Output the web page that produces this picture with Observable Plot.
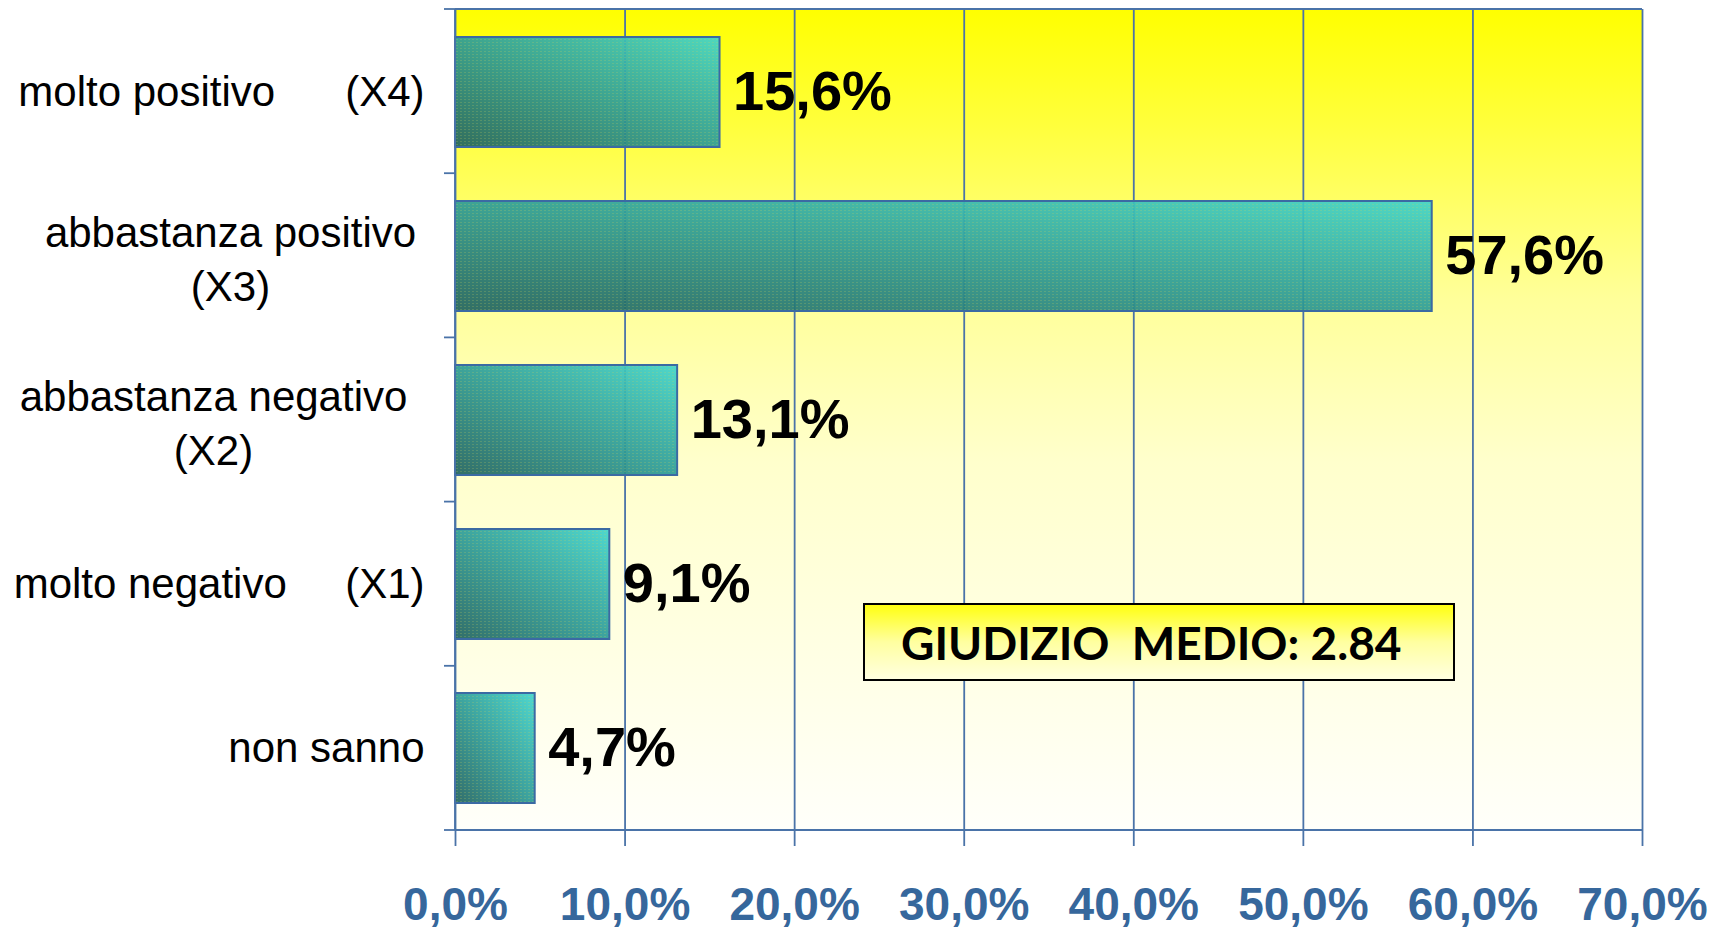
<!DOCTYPE html>
<html><head><meta charset="utf-8">
<script src="https://cdn.jsdelivr.net/npm/d3@7"></script>
<script src="https://cdn.jsdelivr.net/npm/@observablehq/plot@0.6"></script>
<style>
html,body{margin:0;padding:0;background:#fff;overflow:hidden}
#wrap{position:relative;width:1728px;height:928px}
#wrap svg{display:block}
#box{position:absolute;left:863px;top:603px;width:552px;height:74px;padding-left:36px;border:2px solid #000;
  background:linear-gradient(#ffff10,#ffffa0 50%,#ffffe0);font-family:Lato,"Open Sans",sans-serif;font-weight:bold;
  font-size:46px;line-height:76px;white-space:pre;color:#000;box-sizing:content-box}
</style></head><body><div id="wrap"></div>
<script>
const categories = [
  "molto positivo\u00a0\u00a0\u00a0\u00a0\u00a0\u00a0(X4)",
  "abbastanza positivo\n(X3)",
  "abbastanza negativo\n(X2)",
  "molto negativo\u00a0\u00a0\u00a0\u00a0\u00a0(X1)",
  "non sanno"
];
const values = [15.6, 57.6, 13.1, 9.1, 4.7];
const xTicks = [0, 10, 20, 30, 40, 50, 60, 70];
const boxText = "GIUDIZIO  MEDIO: 2.84";

const data = categories.map((label, i) => ({label, value: values[i]}));
const fmt = v => v.toFixed(1).replace(".", ",") + "%";
const lineColor = "#4a73a8";

const defs = () => {
  const d = d3.create("svg:defs");
  const bg = d.append("linearGradient").attr("id", "bgGrad").attr("x1", 0).attr("y1", 0).attr("x2", 0).attr("y2", 1);
  [[0, "#ffff00"], [0.15, "#ffff40"], [0.35, "#ffff99"], [0.55, "#ffffcc"], [1, "#fffffa"]]
    .forEach(([o, c]) => bg.append("stop").attr("offset", o).attr("stop-color", c));
  const bar = d.append("linearGradient").attr("id", "barGrad").attr("x1", 0).attr("y1", 1).attr("x2", 1).attr("y2", 0);
  [[0, "#20625f"], [0.5, "#2d9c98"], [1, "#40d4cc"]]
    .forEach(([o, c]) => bar.append("stop").attr("offset", o).attr("stop-color", c));
  const p = d.append("pattern").attr("id", "dots").attr("patternUnits", "userSpaceOnUse").attr("width", 4).attr("height", 3);
  p.append("rect").attr("x", 0).attr("y", 0).attr("width", 2).attr("height", 1).attr("fill", "#c8d060").attr("fill-opacity", 0.22);
  return d.node();
};

const frameLines = (index, scales, values, dim) => {
  const g = d3.create("svg:g").attr("stroke", lineColor).attr("stroke-width", 1.8).attr("fill", "none");
  const L = dim.marginLeft, R = dim.width - dim.marginRight, T = dim.marginTop, B = dim.height - dim.marginBottom;
  const n = categories.length;
  for (let i = 0; i <= n; i++) {
    const y = T + i * (B - T) / n;
    g.append("line").attr("x1", L - 11).attr("x2", L).attr("y1", y).attr("y2", y);
  }
  g.append("line").attr("x1", L).attr("x2", R).attr("y1", T).attr("y2", T);
  g.append("line").attr("x1", L).attr("x2", R).attr("y1", B).attr("y2", B);
  g.append("line").attr("x1", L).attr("x2", L).attr("y1", T).attr("y2", B);
  return g.node();
};

const wrappedDx = {[categories[1]]: -225, [categories[2]]: -242};

const plot = Plot.plot({
  width: 1728, height: 928,
  marginLeft: 455, marginRight: 86, marginTop: 9, marginBottom: 98,
  style: {fontFamily: "'Liberation Sans', Arial, sans-serif", background: "transparent", overflow: "visible"},
  x: {domain: [0, 70]},
  y: {domain: categories, paddingInner: 0.33, paddingOuter: 0.165, axis: null},
  marks: [
    defs,
    Plot.frame({fill: "url(#bgGrad)", stroke: null}),
    Plot.ruleX(xTicks, {stroke: lineColor, strokeWidth: 1.8}),
    Plot.barX(data, {x: "value", y: "label", fill: "url(#barGrad)", fillOpacity: 0.92}),
    Plot.barX(data, {x: "value", y: "label", fill: "url(#dots)", stroke: "#3b6aa3", strokeWidth: 2}),
    Plot.text(data, {x: "value", y: "label", text: d => fmt(d.value), textAnchor: "start", dx: 13,
      fontSize: 56, fontWeight: "bold", fill: "#000"}),
    frameLines,
    Plot.axisX({ticks: xTicks, tickFormat: fmt, tickSize: 16, tickPadding: 41, fontSize: 46, fontWeight: "bold",
      stroke: lineColor, strokeWidth: 1.8, fill: "#36679c", label: null}),
    Plot.text(categories.filter(c => !c.includes("\n")), {y: d => d, frameAnchor: "left", textAnchor: "end",
      dx: -31, fontSize: 42, fill: "#000"}),
    ...categories.filter(c => c.includes("\n")).map(c =>
      Plot.text([c], {y: d => d, frameAnchor: "left", textAnchor: "middle",
        dx: wrappedDx[c], fontSize: 42, lineHeight: 1.3, fill: "#000"}))
  ]
});
const wrap = document.getElementById("wrap");
wrap.appendChild(plot);
const box = document.createElement("div");
box.id = "box";
box.textContent = boxText;
wrap.appendChild(box);
</script>
</body></html>
